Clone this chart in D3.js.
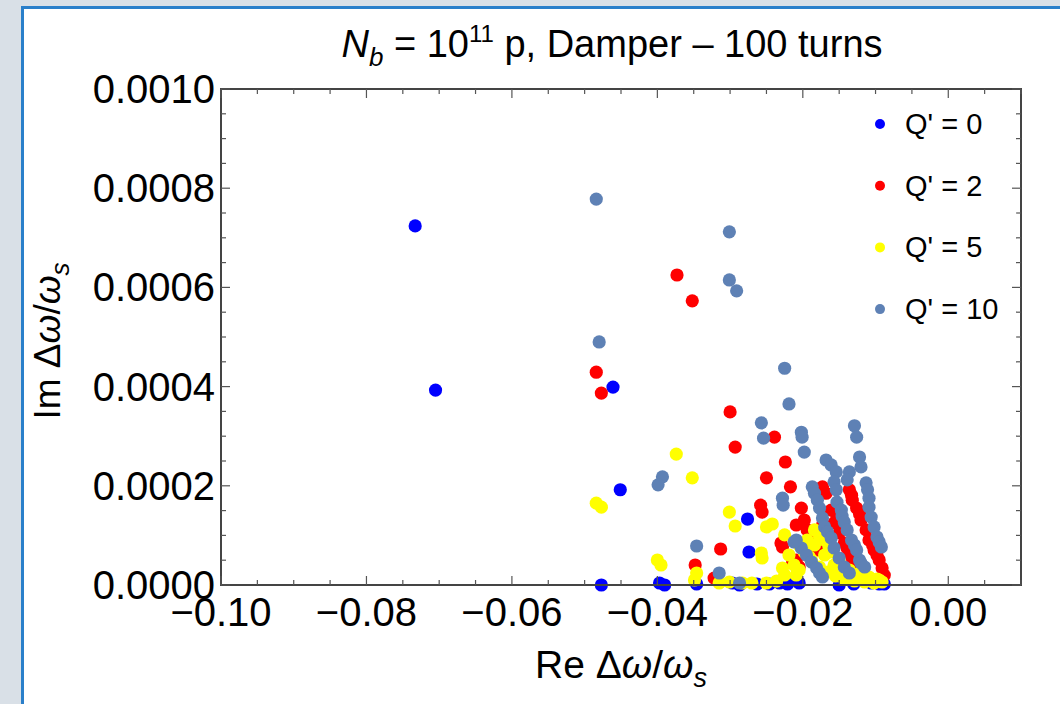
<!DOCTYPE html>
<html>
<head>
<meta charset="utf-8">
<script src="https://cdn.jsdelivr.net/npm/d3@7"></script>
<style>
html, body { margin: 0; padding: 0; background: #d9e0e7; }
svg { display: block; font-family: "Liberation Sans", Arial, sans-serif; }
</style>
</head>
<body>
<div class="content"></div>
<script>
// series: [Re, Im] of the tune shift, one list per chromaticity
var seriesNames = ["Q' = 0", "Q' = 2", "Q' = 5", "Q' = 10"];

var q0 = [
    [-0.0733, 0.000724], [-0.0705, 0.000393], [-0.0461, 0.000399], [-0.0451, 0.000192],
    [-0.0477, 0.0], [-0.0397, 0.000004], [-0.0390, 0.0], [-0.0276, 0.000133],
    [-0.0274, 0.0000665], [-0.0346, 0.000002], [-0.0297, 0.000004], [-0.0287, 0.0],
    [-0.0263, 0.000002], [-0.0246, 0.000002], [-0.0232, 0.000004], [-0.0221, 0.000002],
    [-0.0205, 0.000004], [-0.0195, 0.0000645], [-0.0150, 0.0], [-0.0130, 0.000002],
    [-0.0106, 0.000004], [-0.0095, 0.000002], [-0.0088, 0.000002]
];

var q2 = [
    [-0.0373, 0.000625], [-0.0352, 0.000573], [-0.0484, 0.000429], [-0.0477, 0.000387],
    [-0.0300, 0.000349], [-0.0293, 0.000278], [-0.0239, 0.000298], [-0.0224, 0.000248],
    [-0.0250, 0.000216], [-0.0217, 0.000198], [-0.0258, 0.000161], [-0.0256, 0.000147],
    [-0.0202, 0.000155], [-0.0198, 0.000131], [-0.0209, 0.000121], [-0.0230, 0.0000847],
    [-0.0228, 0.0000766], [-0.0313, 0.0000726], [-0.0348, 0.0000403], [-0.0322, 0.000014],
    [-0.0173, 0.000198], [-0.0168, 0.000185],
    [-0.0136, 0.000192], [-0.0133, 0.000181], [-0.0132, 0.000171], [-0.0126, 0.000155],
    [-0.0122, 0.000143], [-0.0120, 0.000131], [-0.0113, 0.000111], [-0.0109, 0.0000907],
    [-0.0104, 0.0000806], [-0.0102, 0.0000706], [-0.0098, 0.0000605], [-0.0095, 0.0000504],
    [-0.0091, 0.0000343], [-0.0088, 0.000020],
    [-0.0161, 0.000151], [-0.0153, 0.000137], [-0.0157, 0.000125], [-0.0150, 0.000105],
    [-0.0143, 0.0000847], [-0.0139, 0.0000746], [-0.0136, 0.0000645], [-0.0132, 0.0000544],
    [-0.0126, 0.0000464], [-0.0118, 0.000030], [-0.0173, 0.000121],
    [-0.0194, 0.000111], [-0.0187, 0.0000968], [-0.0184, 0.0000847], [-0.0180, 0.0000706],
    [-0.0209, 0.0000504], [-0.0214, 0.0000464], [-0.0205, 0.0000363]
];

var q5 = [
    [-0.0374, 0.000264], [-0.0352, 0.000216], [-0.0484, 0.000165], [-0.0477, 0.000157],
    [-0.0301, 0.000147], [-0.0293, 0.000119], [-0.0250, 0.000117], [-0.0242, 0.000123],
    [-0.0257, 0.0000645], [-0.0256, 0.0000544], [-0.0400, 0.0000504], [-0.0395, 0.0000403],
    [-0.0346, 0.0000242], [-0.0349, 0.0000101], [-0.0228, 0.0000343], [-0.0225, 0.000101],
    [-0.0209, 0.0000202],
    [-0.0184, 0.000111], [-0.0177, 0.0000968], [-0.0191, 0.0000564], [-0.0205, 0.0000302],
    [-0.0164, 0.0000766], [-0.0150, 0.0000504], [-0.0136, 0.0000302], [-0.0122, 0.0000242],
    [-0.0109, 0.0000161], [-0.0095, 0.0000101], [-0.0184, 0.0000807], [-0.0170, 0.0000605],
    [-0.0157, 0.0000403], [-0.0143, 0.0000202], [-0.0129, 0.000012],
    [-0.0205, 0.0000806], [-0.0198, 0.0000665], [-0.0188, 0.0000504], [-0.0177, 0.0000363],
    [-0.0166, 0.0000262], [-0.0155, 0.0000181], [-0.0143, 0.0000121], [-0.0129, 0.0000081],
    [-0.0115, 0.000006], [-0.0102, 0.000004], [-0.0091, 0.000006],
    [-0.0219, 0.0000605], [-0.0212, 0.0000403], [-0.0225, 0.0000202],
    [-0.0194, 0.0000907], [-0.0170, 0.0000907], [-0.0161, 0.0000665], [-0.0150, 0.0000444],
    [-0.0125, 0.0000202], [-0.0111, 0.0000141], [-0.0098, 0.0000121],
    [-0.0315, 0.000004], [-0.0301, 0.000006], [-0.0283, 0.000004], [-0.0270, 0.000004],
    [-0.0250, 0.000004], [-0.0236, 0.000008]
];

var q10 = [
    [-0.0484, 0.000778], [-0.0301, 0.000712], [-0.0301, 0.000615], [-0.0291, 0.000593],
    [-0.0480, 0.000490], [-0.0225, 0.000437], [-0.0219, 0.000365], [-0.0257, 0.000327],
    [-0.0254, 0.000296], [-0.0202, 0.000308], [-0.0201, 0.000298], [-0.0198, 0.000268],
    [-0.0129, 0.000321], [-0.0126, 0.000298], [-0.0393, 0.000218], [-0.0399, 0.000202],
    [-0.0346, 0.0000786], [-0.0315, 0.0000242], [-0.0287, 0.000004],
    [-0.0168, 0.000252], [-0.0161, 0.000242], [-0.0154, 0.000228], [-0.0122, 0.000258],
    [-0.0120, 0.000238], [-0.0136, 0.000228], [-0.0139, 0.000212], [-0.0113, 0.000206],
    [-0.0111, 0.000192], [-0.0109, 0.000175], [-0.0187, 0.000198], [-0.0184, 0.000185],
    [-0.0180, 0.000171], [-0.0177, 0.000155], [-0.0157, 0.000208],
    [-0.0154, 0.000192], [-0.0153, 0.000167], [-0.0147, 0.000151], [-0.0146, 0.000139],
    [-0.0109, 0.000157], [-0.0106, 0.000137], [-0.0102, 0.000117], [-0.0098, 0.0000968],
    [-0.0095, 0.0000867], [-0.0092, 0.0000766],
    [-0.0173, 0.000135], [-0.0170, 0.000117], [-0.0166, 0.000107], [-0.0143, 0.000127],
    [-0.0139, 0.000111], [-0.0133, 0.0000907], [-0.0129, 0.0000806], [-0.0126, 0.0000706],
    [-0.0122, 0.0000504], [-0.0120, 0.0000444], [-0.0115, 0.0000363],
    [-0.0161, 0.0000948], [-0.0157, 0.0000746], [-0.0150, 0.0000544], [-0.0143, 0.0000363],
    [-0.0136, 0.0000242], [-0.0209, 0.0000907], [-0.0202, 0.0000746], [-0.0195, 0.0000605],
    [-0.0188, 0.0000464], [-0.0181, 0.0000343], [-0.0177, 0.0000242], [-0.0173, 0.0000161],
    [-0.0228, 0.000175], [-0.0227, 0.000161], [-0.0212, 0.0000867]
];

var xMajorTicks = [-0.10, -0.08, -0.06, -0.04, -0.02, 0.00];
var yMajorTicks = [0.0000, 0.0002, 0.0004, 0.0006, 0.0008, 0.0010];

var chart = {
    width: 1060,
    height: 704,
    left: 221,
    right: 1021,
    top: 89,
    bottom: 585,
    colors: ['#0000ff', '#ff0000', '#ffff00', '#5e81b5'],
    radius: 6.6
};

var svg = d3.select('.content').append('svg')
    .attr('width', chart.width)
    .attr('height', chart.height);

// window-ish panel with blue edge
svg.append('rect')
    .attr('x', 22.5).attr('y', 7.5)
    .attr('width', 1100).attr('height', 800)
    .style('fill', '#ffffff')
    .style('stroke', '#2a7fca')
    .style('stroke-width', 3);

var x = d3.scaleLinear().domain([-0.1, 0.01]).range([chart.left, chart.right]);
var y = d3.scaleLinear().domain([0, 0.001]).range([chart.bottom, chart.top]);

var xMinor = d3.range(-0.1, 0.0101, 0.005);
var yMinor = d3.range(0, 0.00101, 0.00005);

var g = svg.append('g');

// points, series in order so the last one sits on top
var allSeries = [q0, q2, q5, q10];
allSeries.forEach(function(s, i) {
    g.append('g').selectAll('circle')
        .data(s)
        .enter().append('circle')
        .attr('cx', function(d) { return x(d[0]); })
        .attr('cy', function(d) { return y(d[1]); })
        .attr('r', chart.radius)
        .style('fill', chart.colors[i]);
});

// frame
svg.append('rect')
    .attr('x', chart.left).attr('y', chart.top)
    .attr('width', chart.right - chart.left)
    .attr('height', chart.bottom - chart.top)
    .style('fill', 'none')
    .style('stroke', '#444')
    .style('stroke-width', 2);

function isMajor(v, list) {
    return list.some(function(m) { return Math.abs(m - v) < 1e-9; });
}

var ticks = svg.append('g').style('stroke', '#555').style('stroke-width', 1.2);
xMinor.forEach(function(v) {
    var len = isMajor(v, xMajorTicks) ? 9 : 5;
    ticks.append('line').attr('x1', x(v)).attr('x2', x(v))
        .attr('y1', chart.bottom).attr('y2', chart.bottom - len);
    ticks.append('line').attr('x1', x(v)).attr('x2', x(v))
        .attr('y1', chart.top).attr('y2', chart.top + len);
});
yMinor.forEach(function(v) {
    var len = isMajor(v, yMajorTicks) ? 9 : 5;
    ticks.append('line').attr('y1', y(v)).attr('y2', y(v))
        .attr('x1', chart.left).attr('x2', chart.left + len);
    ticks.append('line').attr('y1', y(v)).attr('y2', y(v))
        .attr('x1', chart.right).attr('x2', chart.right - len);
});

var fx = d3.format('.2f');
var fy = d3.format('.4f');

svg.append('g').selectAll('text')
    .data(xMajorTicks)
    .enter().append('text')
    .attr('x', function(d) { return x(d); })
    .attr('y', 626)
    .attr('text-anchor', 'middle')
    .style('font-size', '40px')
    .text(function(d) { return fx(d); });

svg.append('g').selectAll('text')
    .data(yMajorTicks)
    .enter().append('text')
    .attr('x', 215)
    .attr('y', function(d) { return y(d) + 14; })
    .attr('text-anchor', 'end')
    .style('font-size', '40px')
    .text(function(d) { return fy(d); });

// title
var title = svg.append('text')
    .attr('x', 612).attr('y', 57)
    .attr('text-anchor', 'middle')
    .style('font-size', '38px');
title.append('tspan').style('font-style', 'italic').text('N');
title.append('tspan').style('font-style', 'italic').style('font-size', '26px').attr('dy', 9).text('b');
title.append('tspan').attr('dy', -9).text(' = 10');
title.append('tspan').style('font-size', '24px').attr('dy', -15).text('11');
title.append('tspan').attr('dy', 15).text(' p, Damper \u2013 100 turns');

// axis labels
var xl = svg.append('text')
    .attr('x', 621).attr('y', 678)
    .attr('text-anchor', 'middle')
    .style('font-size', '39px');
xl.append('tspan').text('Re \u0394');
xl.append('tspan').style('font-style', 'italic').text('\u03c9');
xl.append('tspan').text('/');
xl.append('tspan').style('font-style', 'italic').text('\u03c9');
xl.append('tspan').style('font-style', 'italic').style('font-size', '27px').attr('dy', 9).text('s');

var yl = svg.append('text')
    .attr('transform', 'translate(60,341) rotate(-90)')
    .attr('text-anchor', 'middle')
    .style('font-size', '37px');
yl.append('tspan').text('Im \u0394');
yl.append('tspan').style('font-style', 'italic').text('\u03c9');
yl.append('tspan').text('/');
yl.append('tspan').style('font-style', 'italic').text('\u03c9');
yl.append('tspan').style('font-style', 'italic').style('font-size', '26px').attr('dy', 9).text('s');

// legend
var legend = svg.append('g').selectAll('g')
    .data(seriesNames)
    .enter().append('g')
    .attr('transform', function(d, i) { return 'translate(880,' + (124 + i * 61.7) + ')'; });
legend.append('circle')
    .attr('r', 5)
    .style('fill', function(d, i) { return chart.colors[i]; });
legend.append('text')
    .attr('x', 25).attr('y', 10)
    .style('font-size', '29px')
    .text(function(d) { return d; });
</script>
</body>
</html>
